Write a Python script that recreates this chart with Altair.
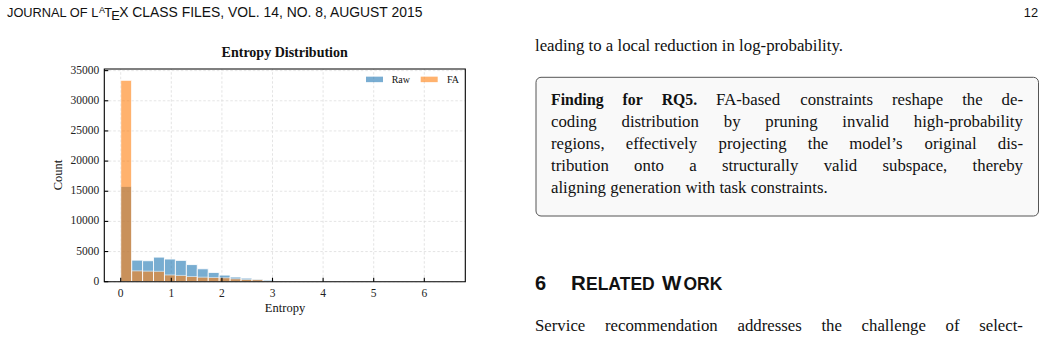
import altair as alt
import pandas as pd

# ---------------- data ----------------
bin_edges = [0.0, 0.2162, 0.4324, 0.6486, 0.8648, 1.081, 1.2972, 1.5134, 1.7296, 1.9458,
             2.162, 2.3782, 2.5944, 2.8106, 3.0268, 3.243, 3.4592, 3.6754, 3.8916, 4.1078,
             4.324, 4.5402, 4.7564, 4.9726, 5.1888, 5.405, 5.6212, 5.8374, 6.0536, 6.2698, 6.486]
raw_counts = [15800, 3580, 3480, 4080, 3760, 3540, 2840, 2140, 1540, 1100,
              780, 600, 420, 270, 120, 70, 40, 25, 15, 10,
              6, 4, 3, 2, 1, 1, 1, 0, 0, 1]
fa_counts = [33400, 1800, 1750, 1720, 1120, 1040, 860, 750, 700, 650,
             480, 380, 340, 120, 60, 35, 20, 12, 8, 5,
             3, 2, 1, 1, 1, 0, 0, 0, 0, 1]
series = ["Raw", "FA"]
series_colors = ["#1f77b4", "#ff7f0e"]
x_ticks = [0, 1, 2, 3, 4, 5, 6]
y_ticks = [0, 5000, 10000, 15000, 20000, 25000, 30000, 35000]
x_lim = [-0.3243, 6.8103]
y_lim = [0, 35270]

# right-column paragraphs: (bold words, regular words) per line
box_lines = [
    ("Finding for RQ5.", "FA-based constraints reshape the de-"),
    ("", "coding distribution by pruning invalid high-probability"),
    ("", "regions, effectively projecting the model\u2019s original dis-"),
    ("", "tribution onto a structurally valid subspace, thereby"),
    ("", "aligning generation with task constraints."),
]
intro_line = "leading to a local reduction in log-probability."
section_num = "6"
section_title = "Related Work"
body_line = "Service recommendation addresses the challenge of select-"

# ---------------- tables ----------------
bins = pd.DataFrame({
    "start": bin_edges[:-1],
    "end": bin_edges[1:],
    "Raw": raw_counts,
    "FA": fa_counts,
})
xt = pd.DataFrame({"t": x_ticks})
yt = pd.DataFrame({"t": y_ticks})
one = pd.DataFrame({"k": [0]})

SERIF = "Liberation Serif"
SANS = "Liberation Sans"

xs = alt.Scale(domain=x_lim, range=[104.3, 465.3], nice=False, zero=False)
ys = alt.Scale(domain=y_lim, range=[281.7, 69.0], nice=False, zero=False)
cs = alt.Scale(domain=series, range=series_colors)


def X(field):
    return alt.X(field, type="quantitative", scale=xs, axis=None)


def Y(field):
    return alt.Y(field, type="quantitative", scale=ys, axis=None)


layers = []

# grid
layers.append(alt.Chart(xt).mark_rule(color="#d9d9d9", strokeWidth=0.7, strokeDash=[2.5, 2]).encode(
    x=X("t"), y=alt.Y(datum=y_lim[0], scale=ys, axis=None), y2=alt.Y2(datum=y_lim[1])))
layers.append(alt.Chart(yt).mark_rule(color="#d9d9d9", strokeWidth=0.7, strokeDash=[2.5, 2]).encode(
    y=Y("t"), x=alt.X(datum=x_lim[0], scale=xs, axis=None), x2=alt.X2(datum=x_lim[1])))

# histogram bars
for s in series:
    layers.append(alt.Chart(bins).transform_calculate(series=f"'{s}'").mark_rect(
        opacity=0.6, stroke="white", strokeWidth=0.9).encode(
        x=X("start"), x2="end", y=Y(s), y2=alt.Y2(datum=0),
        color=alt.Color("series:N", scale=cs, legend=None)))

# frame
layers.append(alt.Chart(one).mark_rect(fill="transparent", stroke="black", strokeWidth=1.1).encode(
    x=alt.X(datum=x_lim[0], scale=xs, axis=None), x2=alt.X2(datum=x_lim[1]),
    y=alt.Y(datum=y_lim[0], scale=ys, axis=None), y2=alt.Y2(datum=y_lim[1])))

# inward ticks
layers.append(alt.Chart(xt).mark_rule(color="black", strokeWidth=1.1, y2Offset=-4).encode(
    x=X("t"), y=alt.Y(datum=0, scale=ys, axis=None), y2=alt.Y2(datum=0)))
layers.append(alt.Chart(yt).mark_rule(color="black", strokeWidth=1.1, x2Offset=4).encode(
    y=Y("t"), x=alt.X(datum=x_lim[0], scale=xs, axis=None), x2=alt.X2(datum=x_lim[0])))

# tick labels
layers.append(alt.Chart(xt).mark_text(font=SERIF, fontSize=11.5, baseline="top", dy=6, color="#222").encode(
    x=X("t"), y=alt.Y(datum=0, scale=ys, axis=None), text="t:Q"))
layers.append(alt.Chart(yt).mark_text(font=SERIF, fontSize=11.5, align="right", baseline="middle", dx=-5, color="#222").encode(
    y=Y("t"), x=alt.X(datum=x_lim[0], scale=xs, axis=None), text="t:Q"))


def txt(text, x, y, size, font=SERIF, weight="normal", align="left", baseline="alphabetic", angle=0, color="#111"):
    kw = dict(font=font, fontSize=size, fontWeight=weight, align=align, baseline=baseline, color=color)
    if angle:
        kw["angle"] = angle
    return alt.Chart(one).mark_text(**kw).encode(
        x=alt.value(x), y=alt.value(y), text=alt.value(text))


# chart titles
layers.append(txt("Entropy Distribution", 284.7, 53, 14, weight="bold", align="center", baseline="middle"))
layers.append(txt("Entropy", 285, 308, 12.5, align="center", baseline="middle"))
layers.append(txt("Count", 58, 175, 12.5, align="center", baseline="middle", angle=270))

# legend
leg_patch_x = [374.5, 429.2]
leg_text_x = [391.7, 447]
for s, px, tx in zip(series, leg_patch_x, leg_text_x):
    ld = pd.DataFrame({"s": [s]})
    layers.append(alt.Chart(ld).mark_rect(opacity=0.6, height=5.5, width=17).encode(
        x=alt.value(px), y=alt.value(79.4),
        color=alt.Color("s:N", scale=cs, legend=None)))
    layers.append(alt.Chart(ld).mark_text(font=SERIF, fontSize=10, align="left", baseline="middle", color="#111").encode(
        x=alt.value(tx), y=alt.value(79.6), text="s:N"))

# page header (LaTeX logo built from pieces)
HS = 12.8
layers.append(txt("JOURNAL OF L", 7, 17, HS, font=SANS))
layers.append(txt("A", 99.0, 13.0, 9.0, font=SANS))
layers.append(txt("T", 104.3, 17, HS, font=SANS))
layers.append(txt("E", 111.2, 20, HS, font=SANS))
layers.append(txt("X CLASS FILES, VOL. 14, NO. 8, AUGUST 2015", 119.2, 17, 13.9, font=SANS))
layers.append(txt("12", 1038, 17, HS, font=SANS, align="right"))

# ---------- justified text (Times-compatible advance widths, per 1000 em) ----------
W_REG = {" ": 250, ",": 250, "-": 333, ".": 250, "\u2019": 333, "5": 500,
         "A": 722, "F": 556, "Q": 722, "R": 667, "S": 556,
         "a": 444, "b": 500, "c": 444, "d": 500, "e": 444, "f": 333, "g": 500, "h": 500,
         "i": 278, "j": 278, "k": 500, "l": 278, "m": 778, "n": 500, "o": 500, "p": 500,
         "q": 500, "r": 333, "s": 389, "t": 278, "u": 500, "v": 500, "w": 722, "x": 500,
         "y": 500, "z": 444}
W_BOLD = {" ": 250, ".": 250, "5": 500, "F": 611, "Q": 778, "R": 722,
          "d": 556, "f": 333, "g": 500, "i": 278, "n": 556, "o": 500, "r": 444}
FS_REG = 16.8
FS_BOLD = 15.8


def wwidth(word, bold):
    tab = W_BOLD if bold else W_REG
    fs = FS_BOLD if bold else FS_REG
    return sum(tab.get(ch, 500) for ch in word) * fs / 1000.0


def justify(words, x0, x1, y, justify_line=True):
    """words: list of (word, bold). returns rows with x positions."""
    widths = [wwidth(w, b) for w, b in words]
    if justify_line and len(words) > 1:
        gap = (x1 - x0 - sum(widths)) / (len(words) - 1)
    else:
        gap = W_REG[" "] * FS_REG / 1000.0
    rows, x = [], x0
    for (w, b), wd in zip(words, widths):
        rows.append({"w": w, "x": x, "y": y, "bold": b})
        x += wd + gap
    return rows


rows = []
for i, (bold_part, reg_part) in enumerate(box_lines):
    words = [(w, True) for w in bold_part.split()] + [(w, False) for w in reg_part.split()]
    rows += justify(words, 551, 1023, 105 + 22 * i, justify_line=(i < len(box_lines) - 1))
rows += justify([(w, False) for w in body_line.split()], 535, 1023, 331)
words_df = pd.DataFrame(rows)

# right column text
layers.append(txt(intro_line, 535, 51, FS_REG))
layers.append(alt.Chart(one).mark_rect(fill="#f9f9f9", stroke="#555", strokeWidth=1, cornerRadius=5).encode(
    x=alt.value(536), x2=alt.value(1038.5), y=alt.value(77.3), y2=alt.value(216)))
for b, wt, fs in [(True, "bold", FS_BOLD), (False, "normal", FS_REG)]:
    sub = words_df[words_df["bold"] == b]
    layers.append(alt.Chart(sub).mark_text(font=SERIF, fontSize=fs, fontWeight=wt, align="left",
                                           baseline="alphabetic", color="#111").encode(
        x=alt.X("x:Q", scale=None, axis=None), y=alt.Y("y:Q", scale=None, axis=None), text="w:N"))

# section heading in small caps
first, second = section_title.split()
layers.append(txt(section_num, 535, 290, 20, font=SANS, weight="bold"))
layers.append(txt(first[0].upper(), 571, 290, 20.5, font=SANS, weight="bold"))
layers.append(txt(first[1:].upper(), 586, 290, 17.5, font=SANS, weight="bold"))
layers.append(txt(second[0].upper(), 662, 290, 20.5, font=SANS, weight="bold"))
layers.append(txt(second[1:].upper(), 683.5, 290, 17.5, font=SANS, weight="bold"))

chart = alt.layer(*layers).properties(
    width=1045, height=345, padding=0, autosize="none", background="white"
).configure_view(strokeWidth=0)

chart.save("out.html", embed_options={"renderer": "svg", "actions": False})
